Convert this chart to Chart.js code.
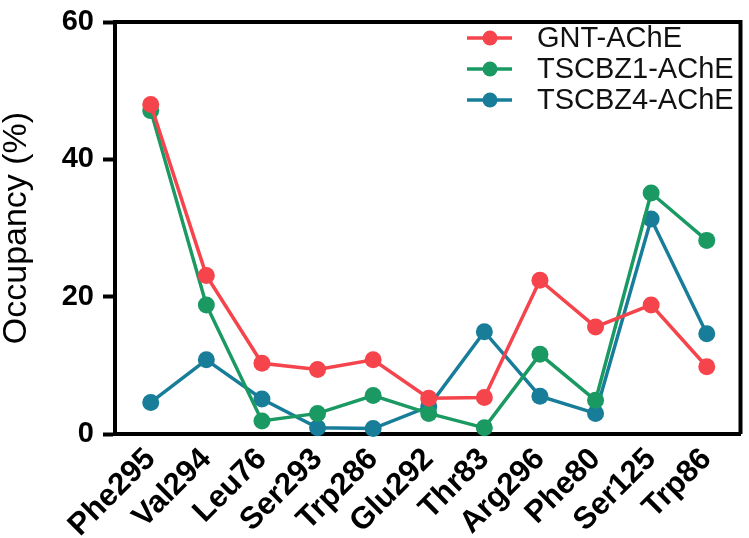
<!DOCTYPE html>
<html>
<head>
<meta charset="utf-8">
<script src="https://cdn.jsdelivr.net/npm/chart.js@4/dist/chart.umd.min.js"></script>
<style>
  html, body { margin: 0; padding: 0; background: #ffffff; }
  #wrap { width: 749px; height: 538px; }
</style>
</head>
<body>
<div id="wrap"><canvas id="c" width="749" height="538"></canvas></div>
<script>
const categories = ['Phe295', 'Val294', 'Leu76', 'Ser293', 'Trp286', 'Glu292', 'Thr83', 'Arg296', 'Phe80', 'Ser125', 'Trp86'];
const gntAChE    = [48.0, 23.1, 10.3, 9.4, 10.8, 5.2, 5.3, 22.4, 15.6, 18.8, 9.8];
const tscbz1AChE = [47.1, 18.8, 1.9, 3.0, 5.6, 3.0, 0.9, 11.6, 4.9, 35.1, 28.2];
const tscbz4AChE = [4.6, 10.8, 5.1, 0.9, 0.8, 4.0, 14.9, 5.5, 3.0, 31.3, 14.6];
const seriesNames = ['GNT-AChE', 'TSCBZ1-AChE', 'TSCBZ4-AChE'];
const yTicks = [0, 20, 40, 60];
const yTitle = 'Occupancy (%)';

const colors = ['#f5444b', '#1a9a62', '#177d99'];
const seriesValues = [gntAChE, tscbz1AChE, tscbz4AChE];

const toPoints = arr => arr.map((v, i) => ({ x: i, y: v }));

const datasets = seriesValues.map((vals, k) => ({
  label: seriesNames[k],
  data: toPoints(vals),
  borderColor: colors[k],
  backgroundColor: colors[k],
  pointBackgroundColor: colors[k],
  pointBorderColor: colors[k],
  pointRadius: 8.5,
  pointBorderWidth: 0,
  pointHoverRadius: 8.5,
  borderWidth: 3.5,
  tension: 0,
  clip: false
}));

const boxPlugin = {
  id: 'boxPlugin',
  beforeDatasetsDraw(chart) {
    const { ctx, chartArea: a } = chart;
    ctx.save();
    ctx.strokeStyle = '#000';
    ctx.lineWidth = 4;
    ctx.beginPath();
    ctx.moveTo(a.left, a.top);
    ctx.lineTo(a.right, a.top);
    ctx.lineTo(a.right, a.bottom);
    ctx.stroke();
    ctx.restore();
  }
};

const legendPlugin = {
  id: 'insideLegend',
  afterDraw(chart) {
    const { ctx } = chart;
    const x0 = 467, x1 = 512, cx = 490, tx = 537;
    const rows = [38, 69, 100];
    ctx.save();
    chart.data.datasets.forEach((ds, i) => {
      const y = rows[i];
      ctx.strokeStyle = ds.borderColor;
      ctx.fillStyle = ds.borderColor;
      ctx.lineWidth = 3.5;
      ctx.beginPath();
      ctx.moveTo(x0, y);
      ctx.lineTo(x1, y);
      ctx.stroke();
      ctx.beginPath();
      ctx.arc(cx, y, 7.5, 0, Math.PI * 2);
      ctx.fill();
      ctx.fillStyle = '#111';
      ctx.font = '29px "Liberation Sans", Arial, sans-serif';
      ctx.textAlign = 'left';
      ctx.textBaseline = 'middle';
      ctx.fillText(ds.label, tx, y + 1);
    });
    ctx.restore();
  }
};

new Chart(document.getElementById('c'), {
  type: 'line',
  data: { datasets },
  plugins: [boxPlugin, legendPlugin],
  options: {
    responsive: false,
    animation: false,
    devicePixelRatio: 1,
    layout: { padding: { top: 13, right: 4, left: 0, bottom: 0 } },
    plugins: {
      legend: { display: false },
      tooltip: { enabled: false }
    },
    scales: {
      x: {
        type: 'linear',
        min: -0.643,
        max: 10.607,
        afterBuildTicks(scale) {
          scale.ticks = categories.map((_, i) => ({ value: i }));
        },
        afterFit(scale) { scale.height = 104; },
        grid: { display: false, drawTicks: false },
        border: { display: true, color: '#000', width: 4 },
        ticks: {
          autoSkip: false,
          minRotation: 45,
          maxRotation: 45,
          padding: 7,
          color: '#000',
          font: { family: '"Liberation Sans", Arial, sans-serif', size: 31, weight: 'bold' },
          callback: (v) => categories[v] ?? ''
        }
      },
      y: {
        min: 0,
        max: 60,
        afterBuildTicks(scale) {
          scale.ticks = yTicks.map(v => ({ value: v }));
        },
        afterFit(scale) { scale.width = 115; },
        grid: {
          drawOnChartArea: false,
          drawTicks: true,
          tickLength: 12,
          tickWidth: 4,
          tickColor: '#000'
        },
        border: { display: true, color: '#000', width: 4 },
        ticks: {
          padding: 9,
          color: '#000',
          font: { family: '"Liberation Sans", Arial, sans-serif', size: 29, weight: 'bold', lineHeight: 0.9 }
        },
        title: {
          display: true,
          text: yTitle,
          color: '#000',
          padding: { top: 0, bottom: 0 },
          font: { family: '"Liberation Sans", Arial, sans-serif', size: 34, weight: 'normal', lineHeight: 1.0 }
        }
      }
    }
  }
});
</script>
</body>
</html>
